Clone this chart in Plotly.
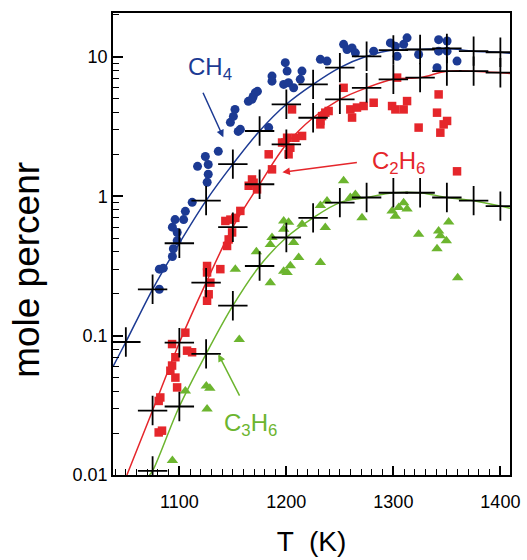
import plotly.graph_objects as go

# ---- model (crosses) temperatures and mole percents ----
T_model = [1050, 1075, 1100, 1125, 1150, 1175, 1200, 1225, 1250, 1275, 1300, 1325, 1350, 1375, 1400]
ch4_model = [0.09, 0.215, 0.46, 0.93, 1.7, 2.94, 4.57, 6.35, 8.37, 10.1, 11.2, 11.3, 11.5, 11.0, 10.8]
c2h6_T_model = [1075, 1100, 1125, 1150, 1175, 1200, 1225, 1250, 1275, 1300, 1325, 1350, 1375, 1400]
c2h6_model = [0.029, 0.089, 0.24, 0.6, 1.22, 2.36, 3.66, 4.96, 6.0, 6.9, 7.1, 7.9, 7.9, 7.7]
c3h6_T_model = [1075, 1100, 1125, 1150, 1175, 1200, 1225, 1250, 1275, 1300, 1325, 1350, 1375, 1400]
c3h6_model = [0.0107, 0.031, 0.074, 0.164, 0.316, 0.506, 0.70, 0.90, 0.98, 1.06, 1.06, 0.98, 0.93, 0.85]

# curve end points beyond the first/last model point
ch4_curve_T = [1038] + T_model + [1409]
ch4_curve = [0.06] + ch4_model + [10.6]
c2h6_curve_T = [1051] + c2h6_T_model + [1409]
c2h6_curve = [0.01] + c2h6_model + [7.6]
c3h6_curve_T = [1072] + c3h6_T_model + [1409]
c3h6_curve = [0.01] + c3h6_model + [0.82]

# ---- measured data ----
ch4_T = [1081.3, 1081.3, 1085, 1093.5, 1094.4, 1098, 1098, 1093.5, 1096, 1104, 1105.6, 1112,
         1117, 1124.3, 1127, 1127, 1126, 1136.4, 1147.7, 1150.5, 1152, 1155, 1164.5, 1169, 1173,
         1157, 1167.9, 1171, 1183.5, 1186.6, 1186.6, 1199, 1200.7, 1197.5, 1202, 1206.8, 1214.6,
         1213, 1231.8, 1238, 1253.5, 1256.7, 1261.4, 1264.5, 1281.6, 1297.2, 1301.9, 1303.5,
         1309.6, 1312.8, 1323.6, 1342.3, 1342.3, 1350.2, 1350.2, 1359.5, 1340.8]
ch4_v = [0.215, 0.30, 0.305, 0.37, 0.42, 0.48, 0.55, 0.60, 0.68, 0.68, 0.78, 0.905,
         1.64, 1.93, 1.69, 1.44, 1.26, 2.1, 3.39, 3.74, 4.2, 2.92, 4.8, 5.2, 5.66,
         3.02, 4.96, 5.54, 3.11, 7.28, 6.7, 9.09, 7.91, 6.35, 6.53, 6.01, 7.91,
         6.9, 9.6, 9.33, 12.3, 11.3, 11.6, 10.7, 11.0, 12.6, 11.9, 10.1,
         12.3, 13.7, 10.4, 13.3, 11.0, 13.0, 11.0, 9.33, 8.37]

c2h6_T = [1080.7, 1083.8, 1080.7, 1082.2, 1097.9, 1096.3, 1091.6, 1093.2, 1096.3, 1107.2, 1111.9,
          1093.2, 1105.6, 1125.9, 1127.4, 1129, 1125.9, 1125.9, 1138.3, 1144.6, 1146.1, 1149.3,
          1143, 1147.7, 1152.3, 1157, 1164.8, 1167.9, 1169.4, 1172.6, 1183.5, 1186.6, 1199,
          1203.7, 1202.1, 1200.7, 1196, 1208.4, 1214.7, 1205.3, 1231.8, 1233.4, 1236.4, 1239.5,
          1231.8, 1253.5, 1259.8, 1266, 1261.4, 1272.2, 1281.6, 1298.8, 1301.9, 1309.6, 1312.8,
          1303.5, 1323.6, 1342.3, 1340.8, 1350.2, 1347, 1343.9, 1359.5]
c2h6_v = [0.0202, 0.0208, 0.034, 0.036, 0.0425, 0.050, 0.056, 0.061, 0.070, 0.078, 0.076,
          0.087, 0.105, 0.178, 0.198, 0.24, 0.284, 0.316, 0.30, 0.44, 0.49, 0.55,
          0.665, 0.68, 0.70, 0.785, 1.19, 1.32, 1.25, 1.12, 2.0, 1.56, 2.43,
          2.23, 2.0, 2.63, 2.43, 2.63, 2.71, 4.2, 3.47, 3.76, 3.98, 4.09,
          3.28, 6.0, 4.2, 4.33, 3.67, 4.44, 4.69, 4.44, 4.2, 4.2, 4.82,
          7.1, 3.11, 5.38, 3.98, 3.47, 3.28, 2.86, 1.51]

c3h6_T = [1093.5, 1125.9, 1105.6, 1125.2, 1128.5, 1156, 1152.3, 1185, 1200.7, 1197.5, 1203.7,
          1211.5, 1231.8, 1172, 1185, 1186.6, 1206.8, 1197.5, 1197.5, 1202.1, 1214.7, 1236.4,
          1231.8, 1253.5, 1238, 1259.8, 1264.5, 1270.7, 1298.8, 1301.9, 1305, 1309.6, 1312.8,
          1323.6, 1342.3, 1343.9, 1351.7, 1349.5, 1340.8, 1360.1]
c3h6_v = [0.0127, 0.0297, 0.040, 0.0435, 0.042, 0.094, 0.30, 0.24, 0.284, 0.29, 0.317,
          0.364, 0.335, 0.40, 0.45, 0.506, 0.466, 0.58, 0.665, 0.65, 0.63, 0.597,
          0.86, 1.29, 0.925, 0.98, 1.03, 0.70, 0.785, 0.72, 0.83, 0.90, 0.81,
          0.534, 0.564, 0.52, 0.655, 0.48, 0.42, 0.26]

# ---- style ----
BLUE = "#1c3a93"
RED = "#e5262b"
GREEN = "#6cb52f"
FONT = "Liberation Sans, Arial, Helvetica, sans-serif"

y_major = [0.01, 0.1, 1, 10]
y_major_text = ["0.01", "0.1", "1", "10"]
y_minor = [m * d for d in [0.01, 0.1, 1, 10] for m in range(2, 10)]

fig = go.Figure()

# model curves
for tx, vy, col in [(ch4_curve_T, ch4_curve, BLUE),
                    (c2h6_curve_T, c2h6_curve, RED),
                    (c3h6_curve_T, c3h6_curve, GREEN)]:
    fig.add_trace(go.Scatter(x=tx, y=vy, mode="lines",
                             line=dict(color=col, width=1.5, shape="spline"),
                             showlegend=False, hoverinfo="skip"))

# measured points
fig.add_trace(go.Scatter(x=ch4_T, y=ch4_v, mode="markers",
                         marker=dict(symbol="circle", size=9, color=BLUE), showlegend=False))
fig.add_trace(go.Scatter(x=c2h6_T, y=c2h6_v, mode="markers",
                         marker=dict(symbol="square", size=8.5, color=RED), showlegend=False))
fig.add_trace(go.Scatter(x=c3h6_T, y=c3h6_v, mode="markers",
                         marker=dict(symbol="triangle-up", size=10, color=GREEN), showlegend=False))

# model points as crosses
for tx, vy in [(T_model, ch4_model), (c2h6_T_model, c2h6_model), (c3h6_T_model, c3h6_model)]:
    fig.add_trace(go.Scatter(x=tx, y=vy, mode="markers",
                             marker=dict(symbol="cross-thin", size=21,
                                         line=dict(color="black", width=1.8)),
                             showlegend=False))

# species labels with arrows
labels = [
    ("CH<sub>4</sub>", 1129, 0.915, BLUE),
    ("C<sub>2</sub>H<sub>6</sub>", 1305, 0.245, RED),
    ("C<sub>3</sub>H<sub>6</sub>", 1166.4, -1.64, GREEN),
]
for txt, x, ly, col in labels:
    fig.add_annotation(x=x, y=ly, xref="x", yref="y", text=txt, showarrow=False,
                       font=dict(family=FONT, size=24, color=col))

arrows = [
    (1141.1, 0.423, -21, -46, BLUE),
    (1196.3, 0.172, 76, -10, RED),
    (1136.4, -1.133, 22, 43, GREEN),
]
for x, ly, ax, ay, col in arrows:
    fig.add_annotation(x=x, y=ly, xref="x", yref="y", text="", showarrow=True,
                       ax=ax, ay=ay, arrowcolor=col, arrowwidth=1.5,
                       arrowhead=2, arrowsize=1)

# vertical axis title, placed freely left of the tick labels
fig.add_annotation(x=-0.218, y=0.445, xref="paper", yref="paper",
                   text="mole percenr", textangle=-90, showarrow=False,
                   xanchor="center", yanchor="middle",
                   font=dict(family=FONT, size=37, color="black"))

fig.update_layout(
    width=527, height=560,
    margin=dict(l=113, r=17, t=13, b=85),
    paper_bgcolor="white", plot_bgcolor="white",
    font=dict(family=FONT, color="black"),
    showlegend=False,
)
fig.update_xaxes(
    range=[1038, 1409], automargin=False,
    tickvals=[1100, 1200, 1300, 1400],
    ticks="inside", ticklen=9, tickwidth=1.5, tickcolor="black",
    ticklabelstandoff=10,
    minor=dict(dtick=10, tick0=1000, ticks="inside", ticklen=6, tickwidth=1, tickcolor="black"),
    showline=True, linecolor="black", linewidth=1.5, mirror=True,
    showgrid=False, zeroline=False,
    tickfont=dict(size=18, family=FONT),
    title=dict(text="T  (K)", font=dict(size=28, family=FONT), standoff=20),
)
fig.update_yaxes(
    type="log", range=[-2, 1.315], automargin=False,
    tickvals=y_major, ticktext=y_major_text,
    ticks="inside", ticklen=10, tickwidth=1.5, tickcolor="black",
    minor=dict(tickvals=y_minor, ticks="inside", ticklen=6, tickwidth=1, tickcolor="black"),
    showline=True, linecolor="black", linewidth=1.5, mirror=True,
    showgrid=False, zeroline=False,
    tickfont=dict(size=18, family=FONT),
)

fig.write_html("out.html")
